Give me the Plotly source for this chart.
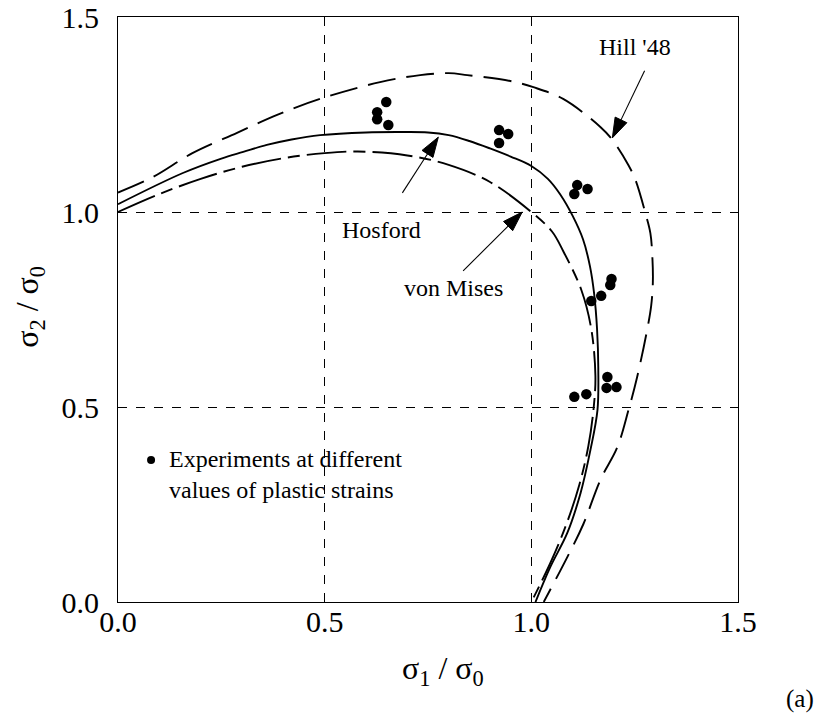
import plotly.graph_objects as go

# ---- data ----
hill_x = [0.0, 0.085, 0.18, 0.288, 0.385, 0.489, 0.634, 0.731, 0.80, 0.845, 0.949, 1.005, 1.077, 1.167,
          1.196, 1.235, 1.252, 1.276, 1.288, 1.293, 1.294, 1.29, 1.28, 1.256, 1.235, 1.208, 1.167, 1.126,
          1.087, 1.03]
hill_y = [1.05, 1.09, 1.151, 1.203, 1.249, 1.29, 1.333, 1.351, 1.356, 1.351, 1.336, 1.32, 1.29, 1.218,
          1.185, 1.12, 1.082, 0.997, 0.946, 0.88, 0.82, 0.76, 0.697, 0.577, 0.492, 0.397, 0.313, 0.2,
          0.115, 0.0]

hosford_x = [0.0, 0.157, 0.25, 0.303, 0.36, 0.42, 0.489, 0.6, 0.683, 0.75, 0.80, 0.85, 0.90, 0.95, 1.0,
             1.04, 1.07, 1.10, 1.125, 1.142, 1.152, 1.159, 1.162, 1.16, 1.143, 1.119, 1.087, 1.046, 1.01]
hosford_y = [1.02, 1.10, 1.137, 1.154, 1.172, 1.186, 1.197, 1.204, 1.205, 1.204, 1.197, 1.182, 1.163,
             1.142, 1.118, 1.085, 1.045, 0.99, 0.93, 0.86, 0.79, 0.70, 0.60, 0.492, 0.39, 0.279, 0.177,
             0.09, 0.0]

mises_x = [0.0, 0.1, 0.2, 0.3, 0.4, 0.5, 0.58, 0.7, 0.8, 0.9, 1.0, 1.05, 1.077, 1.121, 1.145, 1.155,
           1.151, 1.138, 1.116, 1.085, 1.046, 1.0]
mises_y = [1.0, 1.046, 1.085, 1.116, 1.138, 1.151, 1.155, 1.145, 1.121, 1.077, 1.0, 0.95, 0.9, 0.8, 0.7,
           0.58, 0.5, 0.4, 0.3, 0.2, 0.1, 0.0]

exp_x = [0.649, 0.627, 0.627, 0.654, 0.922, 0.944, 0.922, 1.111, 1.136, 1.104,
         1.194, 1.191, 1.169, 1.145, 1.104, 1.133, 1.184, 1.182, 1.206]
exp_y = [1.282, 1.256, 1.238, 1.223, 1.21, 1.2, 1.177, 1.069, 1.059, 1.046,
         0.828, 0.813, 0.785, 0.772, 0.526, 0.533, 0.577, 0.549, 0.551]

tick_vals = [0.0, 0.5, 1.0, 1.5]
tick_text = ["0.0", "0.5", "1.0", "1.5"]

# arrows: (tail x, tail y, head x, head y)
arrows = [(1.274, 1.362, 1.196, 1.19),
          (0.688, 1.049, 0.775, 1.192),
          (0.835, 0.849, 0.978, 1.0)]

FONT = "Liberation Serif, Times New Roman, serif"

fig = go.Figure()
fig.add_trace(go.Scatter(x=hill_x, y=hill_y, mode="lines", line_shape="spline",
                         line=dict(color="black", width=1.9, dash="28px,11px"), name="Hill '48"))
fig.add_trace(go.Scatter(x=hosford_x, y=hosford_y, mode="lines", line_shape="spline",
                         line=dict(color="black", width=1.9), name="Hosford"))
fig.add_trace(go.Scatter(x=mises_x, y=mises_y, mode="lines", line_shape="spline",
                         line=dict(color="black", width=1.9, dash="40px,7px,12px,7px"), name="von Mises"))
fig.add_trace(go.Scatter(x=exp_x, y=exp_y, mode="markers",
                         marker=dict(color="black", size=10.5), name="Experiments"))
fig.add_trace(go.Scatter(x=[0.08], y=[0.364], mode="markers",
                         marker=dict(color="black", size=8), showlegend=False))

for (tx, ty, hx, hy) in arrows:
    fig.add_trace(go.Scatter(x=[tx, hx], y=[ty, hy], mode="lines+markers",
                             line=dict(color="black", width=1.1),
                             marker=dict(symbol="arrow", size=[0, 21], angleref="previous",
                                         color="black", opacity=1, line=dict(width=1, color="black")),
                             showlegend=False, hoverinfo="skip"))

ann = []
lab = dict(size=24)
ann.append(dict(x=1.252, y=1.423, text="Hill '48", showarrow=False, font=lab,
                xanchor="center", yanchor="middle"))
ann.append(dict(x=0.637, y=0.953, text="Hosford", showarrow=False, font=lab,
                xanchor="center", yanchor="middle"))
ann.append(dict(x=0.811, y=0.805, text="von Mises", showarrow=False, font=lab,
                xanchor="center", yanchor="middle"))
ann.append(dict(x=0.118, y=0.328, text="Experiments at different<br>values of plastic strains",
                xanchor="left", yanchor="middle", align="left", showarrow=False, font=lab))
# axis titles
ann.append(dict(xref="x", yref="paper", x=0.787, y=-0.117, text="σ<sub>1</sub> / σ<sub>0</sub>",
                xanchor="center", yanchor="middle", showarrow=False, font=dict(size=32)))
ann.append(dict(xref="paper", yref="y", x=-0.142, y=0.757, text="σ<sub>2</sub> / σ<sub>0</sub>",
                xanchor="center", yanchor="middle", textangle=-90, showarrow=False, font=dict(size=32)))
ann.append(dict(xref="paper", yref="paper", x=1.1, y=-0.166, text="(a)",
                xanchor="center", yanchor="middle", showarrow=False, font=dict(size=25)))

axis_common = dict(range=[0, 1.5], tickvals=tick_vals, ticktext=tick_text, showgrid=True,
                   gridcolor="black", gridwidth=1, griddash="dash", zeroline=False,
                   showline=True, linecolor="black", linewidth=1.2, mirror=True, ticks="",
                   automargin=False,
                   tickfont=dict(size=30, color="black", family=FONT))

fig.update_layout(
    width=815, height=714,
    margin=dict(l=118, r=77, t=17, b=112),
    paper_bgcolor="white", plot_bgcolor="white",
    showlegend=False,
    font=dict(family=FONT, color="black"),
    annotations=ann,
    xaxis=dict(**axis_common, ticklabelstandoff=-7),
    yaxis=dict(**axis_common, ticklabelstandoff=12),
)
fig.write_html("out.html")
